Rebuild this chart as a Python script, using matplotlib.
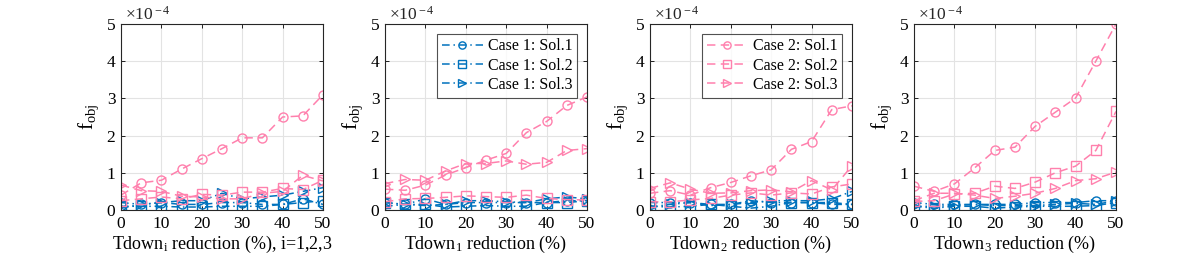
import matplotlib
matplotlib.use("Agg")
import matplotlib.pyplot as plt
import numpy as np

plt.rcParams['font.family'] = ['Liberation Serif', 'DejaVu Serif']
plt.rcParams['mathtext.fontset'] = 'custom'
plt.rcParams['mathtext.rm'] = 'Liberation Serif'
plt.rcParams['mathtext.it'] = 'Liberation Serif:italic'

x = [0, 5, 10, 15, 20, 25, 30, 35, 40, 45, 50]

xlabels = [r"Tdown$_{\rm i}$ reduction (%), i=1,2,3",
           r"Tdown$_{\rm 1}$ reduction (%)",
           r"Tdown$_{\rm 2}$ reduction (%)",
           r"Tdown$_{\rm 3}$ reduction (%)"]

# values in units of 1e-4
# panel 1: Tdown_i
p1_c1s1 = [0.20, 0.15, 0.20, 0.15, 0.15, 0.20, 0.20, 0.15, 0.15, 0.30, 0.15]
p1_c1s2 = [0.10, 0.10, 0.10, 0.08, 0.08, 0.10, 0.10, 0.10, 0.15, 0.20, 0.25]
p1_c1s3 = [0.05, 0.15, 0.20, 0.25, 0.25, 0.45, 0.30, 0.35, 0.40, 0.50, 0.60]
p1_c2s1 = [0.40, 0.73, 0.80, 1.10, 1.38, 1.65, 1.94, 1.94, 2.50, 2.53, 3.10]
p1_c2s2 = [0.25, 0.30, 0.35, 0.30, 0.42, 0.40, 0.48, 0.48, 0.58, 0.55, 0.80]
p1_c2s3 = [0.67, 0.52, 0.50, 0.37, 0.35, 0.30, 0.30, 0.45, 0.50, 0.93, 0.78]

# panel 2: Tdown_1
p2_c1s1 = [0.20, 0.15, 0.30, 0.15, 0.20, 0.20, 0.20, 0.20, 0.20, 0.25, 0.25]
p2_c1s2 = [0.20, 0.15, 0.15, 0.08, 0.10, 0.12, 0.10, 0.10, 0.20, 0.20, 0.25]
p2_c1s3 = [0.10, 0.15, 0.12, 0.15, 0.25, 0.25, 0.22, 0.20, 0.30, 0.35, 0.30]
p2_c2s1 = [0.56, 0.53, 0.67, 0.94, 1.14, 1.34, 1.52, 2.08, 2.38, 2.81, 3.04]
p2_c2s2 = [0.22, 0.30, 0.31, 0.34, 0.38, 0.36, 0.34, 0.40, 0.31, 0.28, 0.27]
p2_c2s3 = [0.71, 0.82, 0.80, 1.05, 1.25, 1.25, 1.32, 1.23, 1.28, 1.60, 1.65]

# panel 3: Tdown_2
p3_c1s1 = [0.20, 0.20, 0.20, 0.15, 0.15, 0.25, 0.20, 0.20, 0.20, 0.15, 0.15]
p3_c1s2 = [0.10, 0.08, 0.10, 0.15, 0.10, 0.05, 0.10, 0.20, 0.20, 0.20, 0.15]
p3_c1s3 = [0.08, 0.15, 0.20, 0.12, 0.15, 0.20, 0.25, 0.25, 0.25, 0.30, 0.50]
p3_c2s1 = [0.45, 0.52, 0.40, 0.60, 0.74, 0.92, 1.08, 1.63, 1.84, 2.70, 2.80]
p3_c2s2 = [0.22, 0.22, 0.27, 0.31, 0.40, 0.46, 0.40, 0.46, 0.43, 0.62, 0.70]
p3_c2s3 = [0.58, 0.73, 0.56, 0.45, 0.46, 0.52, 0.54, 0.49, 0.79, 0.54, 1.19]

# panel 4: Tdown_3
p4_c1s1 = [0.20, 0.15, 0.15, 0.15, 0.15, 0.15, 0.20, 0.20, 0.20, 0.25, 0.25]
p4_c1s2 = [0.10, 0.05, 0.10, 0.10, 0.05, 0.08, 0.10, 0.10, 0.10, 0.12, 0.20]
p4_c1s3 = [0.10, 0.10, 0.12, 0.15, 0.12, 0.12, 0.12, 0.15, 0.18, 0.15, 0.25]
p4_c2s1 = [0.64, 0.50, 0.70, 1.13, 1.60, 1.69, 2.25, 2.63, 3.01, 4.00, 5.00]
p4_c2s2 = [0.23, 0.25, 0.43, 0.45, 0.64, 0.58, 0.75, 1.00, 1.18, 1.60, 2.65]
p4_c2s3 = [0.25, 0.45, 0.45, 0.40, 0.31, 0.37, 0.45, 0.58, 0.79, 0.84, 1.02]

panels = [
    (p1_c1s1, p1_c1s2, p1_c1s3, p1_c2s1, p1_c2s2, p1_c2s3),
    (p2_c1s1, p2_c1s2, p2_c1s3, p2_c2s1, p2_c2s2, p2_c2s3),
    (p3_c1s1, p3_c1s2, p3_c1s3, p3_c2s1, p3_c2s2, p3_c2s3),
    (p4_c1s1, p4_c1s2, p4_c1s3, p4_c2s1, p4_c2s2, p4_c2s3),
]

series_labels = ["Case 1: Sol.1", "Case 1: Sol.2", "Case 1: Sol.3",
                 "Case 2: Sol.1", "Case 2: Sol.2", "Case 2: Sol.3"]

blue = '#0072BD'
pink = '#FF80AD'
colors = [blue, blue, blue, pink, pink, pink]
dashes = [(5, 2.5, 1, 2.5)] * 3 + [(5.5, 3.5)] * 3
markers = ['o', 's', '>', 'o', 's', '>']

fig = plt.figure(figsize=(11.96, 2.66), dpi=100)
lefts = [121, 385, 650, 914]
W, H = 1196.0, 266.0
for k, left in enumerate(lefts):
    ax = fig.add_axes([left / W, (266 - 210) / H, 202 / W, 186 / H])
    handles = []
    for j, ys in enumerate(panels[k]):
        h, = ax.plot(x, ys, linestyle='--', dashes=dashes[j], color=colors[j],
                     marker=markers[j], markerfacecolor='none',
                     markeredgecolor=colors[j], markersize=6.5, linewidth=1.1,
                     markeredgewidth=1.0, label=series_labels[j])
        handles.append(h)
    ax.set_xlim(0, 50)
    ax.set_ylim(0, 5)
    ax.set_xticks([0, 10, 20, 30, 40, 50])
    ax.set_yticks([0, 1, 2, 3, 4, 5])
    ax.grid(True, color='#e3e3e3', linewidth=0.8)
    ax.set_axisbelow(True)
    ax.tick_params(direction='in', labelsize=12.5, length=3, width=0.6,
                   top=True, right=True, pad=4)
    for s in ax.spines.values():
        s.set_linewidth(0.8)
        s.set_color('#262626')
    ax.set_xlabel(xlabels[k], fontsize=13, labelpad=2)
    ax.set_ylabel(r"f$_{\rm obj}$", fontsize=15, labelpad=4)
    ax.text(0.02, 1.0, r"$\times$10$^{\rm -4}$", transform=ax.transAxes,
            fontsize=12.5, ha='left', va='bottom', color='#262626')
    if k in (1, 2):
        hs = handles[:3] if k == 1 else handles[3:]
        leg = ax.legend(handles=hs, loc='upper right', fontsize=11.5,
                        frameon=True, fancybox=False, edgecolor='#262626',
                        handlelength=2.6, borderpad=0.3, labelspacing=0.2,
                        handletextpad=0.3, borderaxespad=0.6, markerscale=0.8)
        leg.get_frame().set_linewidth(0.8)

fig.savefig("out.png", dpi=100)
